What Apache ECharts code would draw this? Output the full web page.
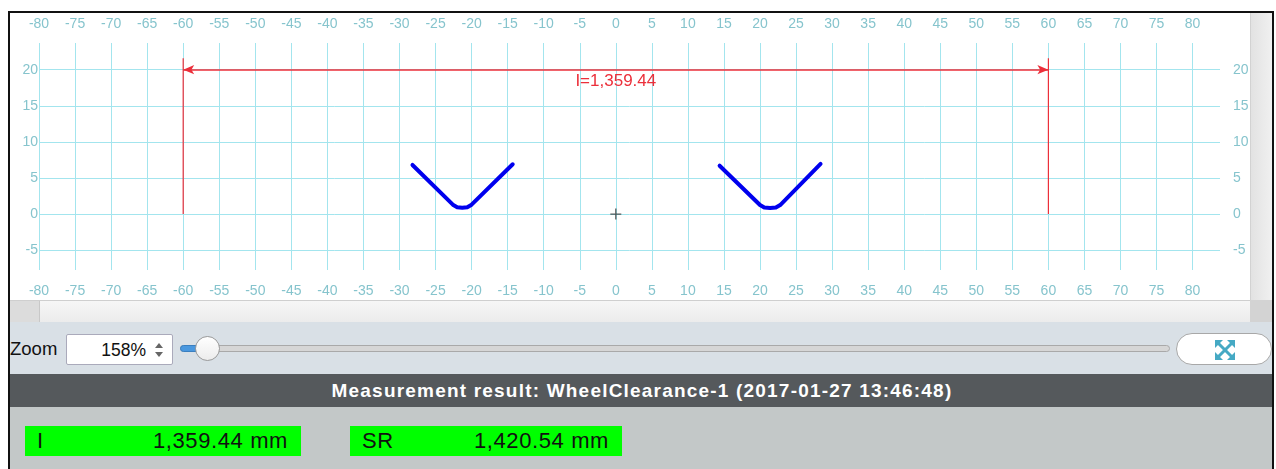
<!DOCTYPE html>
<html>
<head>
<meta charset="utf-8">
<script src="https://cdn.jsdelivr.net/npm/echarts@6/dist/echarts.min.js"></script>
<style>
  html, body { margin:0; padding:0; background:#fff; width:1276px; height:469px; overflow:hidden; font-family:"Liberation Sans", Arial, sans-serif; }
  #frame { position:absolute; left:8px; top:11px; width:1266px; height:470px; border-left:2px solid #111; border-top:2px solid #111; border-right:2px solid #111; box-sizing:border-box; overflow:hidden; }
  #chart { position:absolute; left:0; top:0; width:1240px; height:287px; background:#fff; }
  #vscroll { position:absolute; left:1240px; top:0; width:24px; height:287px; background:linear-gradient(to right,#e2e2e2,#f2f2f2); border-left:1px solid #d2d2d2; box-sizing:border-box; }
  #hscroll { position:absolute; left:0; top:287px; width:1240px; height:22px; background:linear-gradient(to bottom,#f6f6f6,#ececec); border-top:1px solid #cfcfcf; box-sizing:border-box; }
  #hthumb { position:absolute; left:0; top:0; width:30px; height:21px; background:#dcdcdc; border-right:1px solid #c8c8c8; box-sizing:border-box; }
  #corner { position:absolute; left:1240px; top:287px; width:24px; height:22px; background:#d3d3d3; }
  #zoompanel { position:absolute; left:0; top:309px; width:1264px; height:52px; background:#d9e0e6; }
  #zoomlbl { position:absolute; left:0px; top:16px; font-size:18.5px; color:#111; }
  #zoombox { position:absolute; left:56px; top:12px; width:107px; height:31px; background:#fff; border:1px solid #aab; border-radius:2px; box-sizing:border-box; }
  #zoomval { position:absolute; right:26px; top:5px; font-size:17.5px; color:#111; }
  .tri-up { position:absolute; right:9px; top:8px; width:0; height:0; border-left:4px solid transparent; border-right:4px solid transparent; border-bottom:5px solid #666; }
  .tri-dn { position:absolute; right:9px; top:17px; width:0; height:0; border-left:4px solid transparent; border-right:4px solid transparent; border-top:5px solid #666; }
  #track { position:absolute; left:170px; top:23px; width:990px; height:7px; background:#d6d6d6; border:1px solid #a9a9a9; border-radius:4px; box-sizing:border-box; }
  #trackfill { position:absolute; left:170px; top:23px; width:22px; height:7px; background:#4a98df; border:1px solid #3a7fc0; border-radius:4px; box-sizing:border-box; }
  #knob { position:absolute; left:185px; top:14px; width:25px; height:25px; border-radius:50%; background:linear-gradient(#ffffff,#ececec); border:1px solid #9a9a9a; box-sizing:border-box; }
  #fitbtn { position:absolute; left:1166px; top:11px; width:96px; height:32px; border-radius:16px; background:#fff; border:1px solid #a8a8a8; box-sizing:border-box; }
  #fitbtn svg { position:absolute; left:37px; top:6px; }
  #titlebar { position:absolute; left:0; top:361px; width:1264px; height:33px; background:#55595c; color:#fff; font-weight:bold; font-size:19px; letter-spacing:1.2px; text-align:center; line-height:33px; }
  #results { position:absolute; left:0; top:394px; width:1264px; height:80px; background:#c3c8c8; }
  .res { position:absolute; top:19px; height:30px; background:#00ff00; color:#111; font-size:22px; letter-spacing:0.6px; line-height:30px; }
  .res .n { position:absolute; left:12px; }
  .res .v { position:absolute; right:13px; }
</style>
</head>
<body>
<div id="frame">
  <div id="chart"></div>
  <div id="vscroll"></div>
  <div id="hscroll"><div id="hthumb"></div></div>
  <div id="corner"></div>
  <div id="zoompanel">
    <div id="zoomlbl">Zoom</div>
    <div id="zoombox"><span id="zoomval"></span><div class="tri-up"></div><div class="tri-dn"></div></div>
    <div id="track"></div><div id="trackfill"></div><div id="knob"></div>
    <div id="fitbtn"><svg width="22" height="20" viewBox="0 0 22 20">
      <g stroke="#45a9c4" stroke-width="3" fill="none"><line x1="4" y1="3" x2="18" y2="17"/><line x1="18" y1="3" x2="4" y2="17"/></g>
      <g fill="#45a9c4"><polygon points="1,0 9,0 1,8"/><polygon points="21,0 13,0 21,8"/><polygon points="1,20 9,20 1,12"/><polygon points="21,20 13,20 21,12"/></g>
    </svg></div>
  </div>
  <div id="titlebar"></div>
  <div id="results"></div>
</div>
<script>
// ---- data ----
const xRange = [-80, 83.8];
const yRange = [-7.75, 23.7];
const tickStep = 5;
const leftProfile  = [[-28.2, 6.8], [-22.6, 1.3], [-22.0, 0.95], [-21.3, 0.88], [-20.6, 0.95], [-20.0, 1.3], [-14.3, 6.9]];
const rightProfile = [[14.4, 6.7], [20.0, 1.25], [20.6, 0.9], [21.4, 0.85], [22.2, 0.9], [22.8, 1.25], [28.4, 6.95]];
const dimensionSpan = [[-60, 20], [60, 20]];
const leftWitness  = [[-60, 0], [-60, 21.6]];
const rightWitness = [[60, 0], [60, 21.6]];
const originMark = [[0, 0]];
const dimensionLabel = 'I=1,359.44';
const resultNames  = ['I', 'SR'];
const resultValues = ['1,359.44 mm', '1,420.54 mm'];
const titleText = 'Measurement result: WheelClearance-1 (2017-01-27 13:46:48)';
const zoomText = '158%';

// ---- chrome text ----
document.getElementById('titlebar').textContent = titleText;
document.getElementById('zoomval').textContent = zoomText;
const resBox = document.getElementById('results');
const boxGeom = [[15, 276], [340, 272]];
resultNames.forEach((n, i) => {
  const d = document.createElement('div');
  d.className = 'res';
  d.style.left = boxGeom[i][0] + 'px';
  d.style.width = boxGeom[i][1] + 'px';
  d.innerHTML = '<span class="n"></span><span class="v"></span>';
  d.querySelector('.n').textContent = n;
  d.querySelector('.v').textContent = resultValues[i];
  resBox.appendChild(d);
});

// ---- chart ----
const labelColor = '#86c4cd';
const gridColor = '#a3e5ee';
const red = '#ec2f3a';
const fontFamily = '"Liberation Sans", Arial, sans-serif';

function xAxisDef(pos, showSplit) {
  return {
    type: 'value', position: pos, min: xRange[0], max: xRange[1],
    minInterval: tickStep, maxInterval: tickStep, splitNumber: 33,
    axisLine: { show: false }, axisTick: { show: false },
    axisLabel: { color: labelColor, fontSize: 14, fontFamily, margin: pos === 'top' ? 12 : 14, showMinLabel: true, showMaxLabel: false, hideOverlap: false },
    splitLine: { show: showSplit, showMinLine: true, showMaxLine: false, lineStyle: { color: gridColor, width: 1 } }
  };
}
function yAxisDef(pos, showSplit) {
  return {
    type: 'value', position: pos, min: yRange[0], max: yRange[1],
    minInterval: tickStep, maxInterval: tickStep, splitNumber: 6,
    axisLine: { show: false }, axisTick: { show: false },
    axisLabel: { color: labelColor, fontSize: 14, fontFamily, margin: pos === 'left' ? 1 : 13, showMinLabel: false, showMaxLabel: false, hideOverlap: false },
    splitLine: { show: showSplit, showMinLine: false, showMaxLine: false, lineStyle: { color: gridColor, width: 1 } }
  };
}

const chart = echarts.init(document.getElementById('chart'), null, { renderer: 'canvas' });
chart.setOption({
  animation: false,
  backgroundColor: '#fff',
  grid: { left: 29, top: 30, width: 1181, height: 227, containLabel: false, outerBoundsMode: 'none' },
  xAxis: [xAxisDef('bottom', true), xAxisDef('top', false)],
  yAxis: [yAxisDef('left', true), yAxisDef('right', false)],
  series: [
    { type: 'line', data: leftProfile, showSymbol: false, symbol: 'none', lineStyle: { color: '#0000ee', width: 4, cap: 'round', join: 'round' }, z: 5 },
    { type: 'line', data: rightProfile, showSymbol: false, symbol: 'none', lineStyle: { color: '#0000ee', width: 4, cap: 'round', join: 'round' }, z: 5 },
    { type: 'line', data: leftWitness, showSymbol: false, symbol: 'none', lineStyle: { color: red, width: 1.2 } },
    { type: 'line', data: rightWitness, showSymbol: false, symbol: 'none', lineStyle: { color: red, width: 1.2 } },
    { type: 'line', data: dimensionSpan, showSymbol: false, symbol: 'none', color: red,
      lineStyle: { color: red, width: 0, opacity: 0 },
      markLine: {
        silent: true, animation: false, precision: 2,
        symbol: ['arrow', 'arrow'], symbolSize: [7, 11], symbolOffset: 0,
        lineStyle: { color: red, width: 1.6, type: 'solid', opacity: 1 },
        label: { show: true, position: 'insideMiddleBottom', formatter: dimensionLabel, color: red, fontSize: 17, fontFamily, distance: 3 },
        emphasis: { disabled: true },
        data: [[{ coord: dimensionSpan[0] }, { coord: dimensionSpan[1] }]]
      } },
    { type: 'scatter', data: originMark, symbol: 'path://M5,0L5,10M0,5L10,5', symbolSize: 11,
      itemStyle: { color: 'none', borderColor: '#333', borderWidth: 1.3 } }
  ]
});
</script>
</body>
</html>
